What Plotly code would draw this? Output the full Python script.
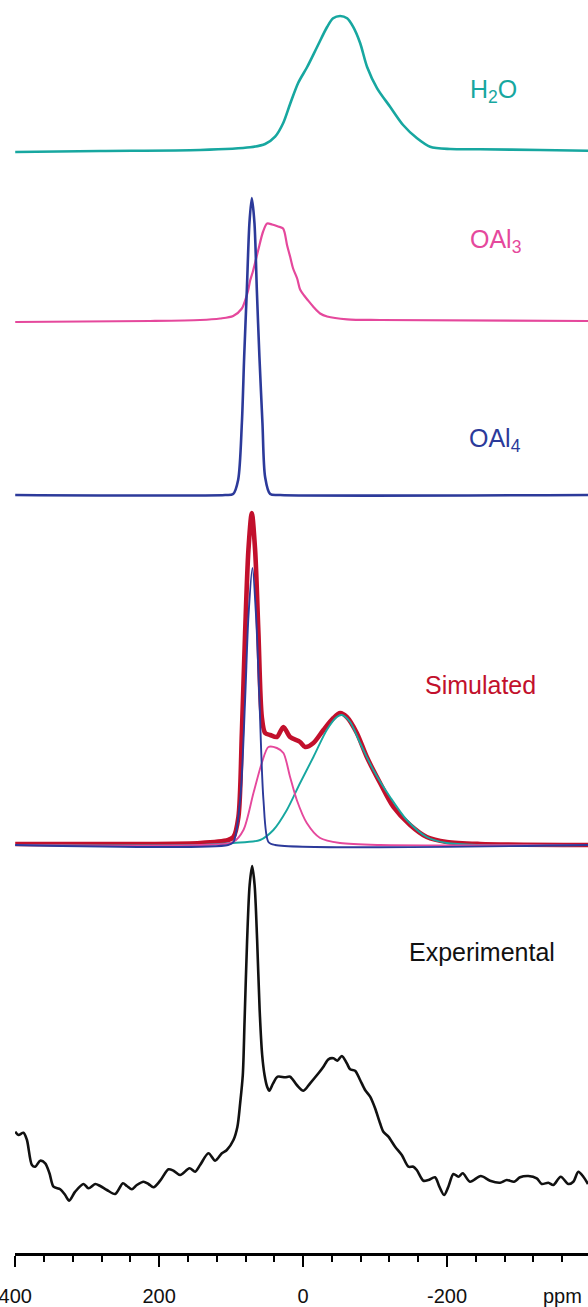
import plotly.graph_objects as go

# ---------------- data (chemical shift in ppm, intensity in arbitrary units) ----------------
h2o_ppm = [400, 281.9, 143.1, 73.6, 52.8, 38.9, 27.8, 18.1, 6.9, -5.6, -19.4, -33.3, -41.7,
           -51.4, -61.1, -69.4, -79.2, -88.9, -102.8, -120.8, -138.9, -158.3, -176.4, -204.2,
           -245.8, -329.2, -395.8]
h2o_int = [0, 1, 2, 4.7, 8, 15.3, 28.7, 48, 69, 85, 105, 125, 133.7,
           136, 133.7, 125.3, 109, 85, 63.7, 45.3, 27, 13.7, 5.3, 3,
           2.7, 2, 1.3]

oal3_ppm = [400, 212.5, 143.1, 115.3, 97.2, 85.1, 80.6, 76.4, 73.6, 69.4, 62.5, 55.6, 50.0,
            43.1, 34.7, 27.8, 22.2, 18.1, 13.9, 8.3, 4.2, -1.4, -6.9, -13.9, -23.6, -33.3,
            -61.1, -106.9, -395.8]
oal3_int = [-1.5, -0.5, 0.5, 2, 4.5, 12, 20, 30, 40, 50, 70, 89, 97,
            96, 94, 92, 75, 64, 52, 42, 31, 25, 20, 14, 7, 4,
            1.2, 0.5, -0.5]

oal4_ppm = [400, 108.3, 97.2, 90.3, 85.1, 81.9, 78.2, 74.6, 71.3, 67.6, 64.3, 60.7, 56.5,
            52.8, 45.8, 31.9, -395.8]
oal4_int = [0, 0, 1, 15, 72, 138, 205, 272, 297, 272, 205, 138, 72,
            18, 1, 0, 0]

sim_oal4_ppm = [400, 104.2, 96.8, 87.5, 80.6, 76.0, 70.4, 65.3, 60.7, 55.1, 48.2, 38.9, -395.8]
sim_oal4_int = [0, 0, 3, 45, 145, 228, 277, 228, 145, 45, 3, 0, 0]

sim_oal3_ppm = [400, 143.1, 97.2, 82.9, 69.0, 57.4, 48.2, 36.5, 27.4, 18.1, 8.8, -5.1,
                -23.6, -51.4, -106.9, -395.8]
sim_oal3_int = [0, 0, 3, 15, 52, 82, 98, 97, 92, 68, 45, 22,
                7, 2, 0, 0]

sim_h2o_ppm = [400, 143.1, 97.2, 59.7, 41.3, 22.6, 4.2, -14.3, -32.9, -46.8, -53.8, -65.3,
               -79.2, -97.6, -120.8, -144.0, -171.8, -199.6, -245.8, -395.8]
sim_h2o_int = [0, 0, 2, 5, 15, 35, 62, 88, 115, 128, 130, 123,
               102, 75, 48, 25, 8, 2, 0, 0]

sim_ppm = [400, 143.1, 104.2, 96.8, 89.9, 85.1, 80.6, 76.0, 71.3, 66.7, 62.1, 57.4, 52.8,
           45.8, 36.5, 27.4, 18.1, 4.2, -2.8, -14.3, -28.2, -42.1, -51.4, -60.7, -74.6,
           -88.5, -106.9, -125.4, -148.6, -171.8, -199.6, -245.8, -395.8]
sim_int = [1, 2, 5, 8, 28, 112, 212, 295, 332, 295, 212, 128, 112,
           110, 108, 118, 108, 103, 98, 102, 115, 127, 132, 128, 112,
           88, 62, 38, 20, 8, 3, 1, 0]

exp_ppm = [400, 395.4, 388.5, 383.7, 376.8, 372.2, 365.3, 358.3, 352.4, 346.8, 337.5, 330.6,
           325.0, 316.7, 305.1, 298.2, 288.9, 281.9, 272.6, 261.1, 250.4, 244.9, 237.9, 231.0,
           221.8, 214.9, 207.9, 198.6, 187.1, 180.1, 170.8, 157.9, 150.0, 143.1, 131.5, 122.2,
           112.9, 106.0, 96.8, 91.3, 87.5, 83.8, 81.3, 77.8, 74.3, 70.8, 67.4, 63.9, 60.4,
           56.9, 53.6, 50.0, 46.9, 41.7, 35.4, 25.0, 18.1, 8.8, -0.4, -9.7, -21.3, -28.2, -35.1,
           -42.1, -47.6, -53.8, -60.7, -65.3, -72.2, -79.2, -86.1, -93.1, -100.0, -106.9,
           -111.5, -118.5, -127.8, -137.1, -146.3, -153.2, -157.9, -167.1, -174.0, -183.3,
           -189.3, -195.8, -201.8, -208.8, -215.7, -221.8, -231.9, -246.8, -259.7, -273.6,
           -282.9, -293.1, -301.4, -312.9, -324.6, -331.5, -340.7, -347.6, -357.9, -368.5,
           -375.4, -382.4, -389.3, -395.8]
exp_int = [68.3, 65, 67.3, 60, 35, 33.3, 39.3, 36.7, 26.7, 13.3, 10.7, 5,
           -0.7, 8.3, 16, 11.7, 16, 14, 10, 6, 16.7, 14, 10.7, 15,
           18.3, 16, 12.7, 19.3, 30.7, 29.3, 25, 31.7, 28.3, 35, 46.7, 39.3,
           46.7, 50, 60, 73.3, 96.7, 125, 180, 260, 315, 334, 315, 260, 190,
           145, 125, 113.3, 109.3, 116.7, 123.3, 122.7, 123.3, 115, 109.3, 116.7, 126.7, 133.3, 140.7,
           141.7, 139.3, 144, 136.7, 130.7, 129.3, 120, 110, 103.3, 91.7, 76.7,
           68.3, 63.3, 53.3, 45, 33.3, 33.3, 30, 19.3, 20, 22.7,
           13.3, 5, 13.3, 26, 23.3, 26.7, 18.3, 24, 19.3, 17.3,
           20, 18.3, 22.7, 24, 21.7, 16, 17.3, 15, 23.3, 16,
           18.3, 28.3, 23.3, 16]

x_ticks = [400, 200, 0, -200]
x_tick_labels = ["400", "200", "0", "-200"]
labels = ["H<sub>2</sub>O", "OAl<sub>3</sub>", "OAl<sub>4</sub>", "Simulated", "Experimental"]

# ---------------- styling ----------------
TEAL = "#17a7a0"
PINK = "#e5489c"
BLUE = "#2c3a9a"
RED = "#c2102c"
BLACK = "#111111"
FONT = "Liberation Sans, Arial, sans-serif"

# vertical offsets of each stacked spectrum
OFF_H2O, OFF_OAL3, OFF_OAL4, OFF_SIM, OFF_EXP = 1101, 932.5, 758, 408, 53

fig = go.Figure()


def add(xs, ys, off, color, width):
    fig.add_trace(go.Scatter(
        x=xs, y=[v + off for v in ys], mode="lines",
        line=dict(color=color, width=width, shape="spline", smoothing=0.8),
        hoverinfo="skip", showlegend=False))


add(h2o_ppm, h2o_int, OFF_H2O, TEAL, 2.6)
add(oal3_ppm, oal3_int, OFF_OAL3, PINK, 2.2)
add(oal4_ppm, oal4_int, OFF_OAL4, BLUE, 2.6)

add(sim_ppm, sim_int, OFF_SIM, RED, 4.6)
add(sim_h2o_ppm, sim_h2o_int, OFF_SIM, TEAL, 1.9)
add(sim_oal3_ppm, sim_oal3_int, OFF_SIM, PINK, 1.9)
add(sim_oal4_ppm, sim_oal4_int, OFF_SIM, BLUE, 1.9)

add(exp_ppm, exp_int, OFF_EXP, BLACK, 2.6)

annots = [
    (labels[0], -264, 1162, TEAL, "center"),
    (labels[1], -267, 1012, PINK, "center"),
    (labels[2], -267, 813, BLUE, "center"),
    (labels[3], -247, 568, RED, "center"),
    (labels[4], -144, 301, BLACK, "left"),
]
for txt, ax_, ay_, col, anchor in annots:
    fig.add_annotation(x=ax_, y=ay_, xref="x", yref="y", text=txt, showarrow=False,
                       xanchor=anchor, yanchor="middle",
                       font=dict(family=FONT, size=25, color=col))

fig.add_annotation(x=-361, y=-0.034, xref="x", yref="paper", text="ppm", showarrow=False,
                   xanchor="center", yanchor="middle",
                   font=dict(family=FONT, size=20, color=BLACK))

fig.update_layout(
    width=588, height=1307,
    margin=dict(l=15, r=0, t=0, b=54),
    paper_bgcolor="white", plot_bgcolor="white",
    showlegend=False,
    xaxis=dict(
        range=[400.3, -395.8], showgrid=False, zeroline=False,
        showline=True, linecolor="black", linewidth=2.5,
        tickmode="array", tickvals=x_ticks, ticktext=x_tick_labels,
        ticks="outside", ticklen=11, tickwidth=2, tickcolor="black",
        tickfont=dict(family=FONT, size=20, color=BLACK),
        ticklabeloverflow="allow", ticklabelstandoff=12,
        minor=dict(tickmode="linear", tick0=0, dtick=40, ticks="outside",
                   ticklen=6, tickwidth=2, tickcolor="black", showgrid=False),
        automargin=False,
    ),
    yaxis=dict(range=[0, 1253], visible=False, showgrid=False, zeroline=False),
)

fig.write_html("out.html", config={"displayModeBar": False},
               post_script="document.body.style.margin='0';document.body.style.overflow='hidden';")
